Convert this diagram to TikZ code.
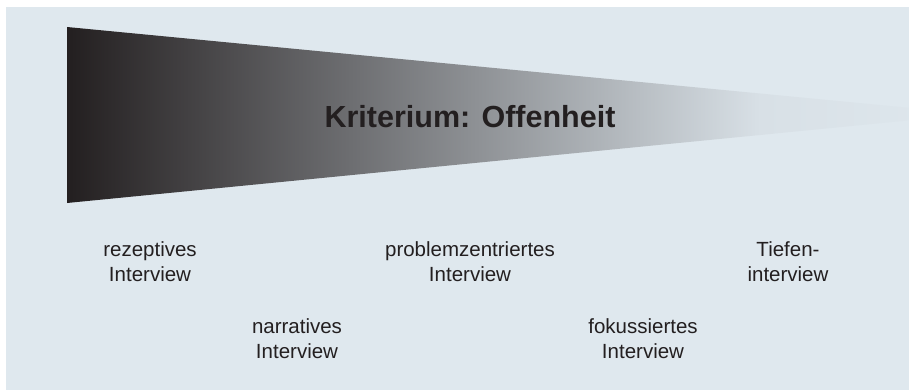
\documentclass[tikz,border=0pt]{standalone}
\usepackage{fontspec}
\setmainfont{Liberation Sans}
\definecolor{panel}{HTML}{DFE8EE}
\definecolor{wedgedark}{HTML}{231F20}
\definecolor{wedgefaint}{HTML}{D8E0E6}
\tikzset{
  label/.style={font=\fontsize{20.5}{25}\selectfont, text=wedgedark, align=center, anchor=base, inner sep=0pt},
  heading/.style={font=\fontsize{30.5}{36}\selectfont\bfseries, text=wedgedark, anchor=base, inner sep=0pt}
}
\begin{document}
\begin{tikzpicture}[x=1pt,y=-1pt]
  \useasboundingbox (0,0) rectangle (909,390);
  \fill[white] (0,0) rectangle (909,390);
  \fill[panel] (6,7) rectangle (909,390);
  % tapering wedge, fading into the panel towards its tip
  \coordinate (wtl) at (67,27);
  \coordinate (wbl) at (67,203);
  \coordinate (wtm) at (760,93.5);
  \coordinate (wbm) at (760,135);
  \coordinate (wtip) at (973,114);
  \begin{scope}
    \clip (6,7) rectangle (909,390);
    \shade[left color=wedgedark, right color=wedgefaint] (wtl) -- (wtm) -- (wbm) -- (wbl) -- cycle;
    \shade[left color=wedgefaint, right color=panel] (wtm) -- (wtip) -- (wbm) -- cycle;
  \end{scope}
  \node[heading] (title) at (470,128) {Kriterium: Offenheit};
  \node[label] (rez) at (150,281) {rezeptives\\Interview};
  \node[label] (nar) at (297,358) {narratives\\Interview};
  \node[label] (prob) at (470,281) {problemzentriertes\\Interview};
  \node[label] (fok) at (643,358) {fokussiertes\\Interview};
  \node[label] (tief) at (788,281) {Tiefen-\\interview};
\end{tikzpicture}
\end{document}
